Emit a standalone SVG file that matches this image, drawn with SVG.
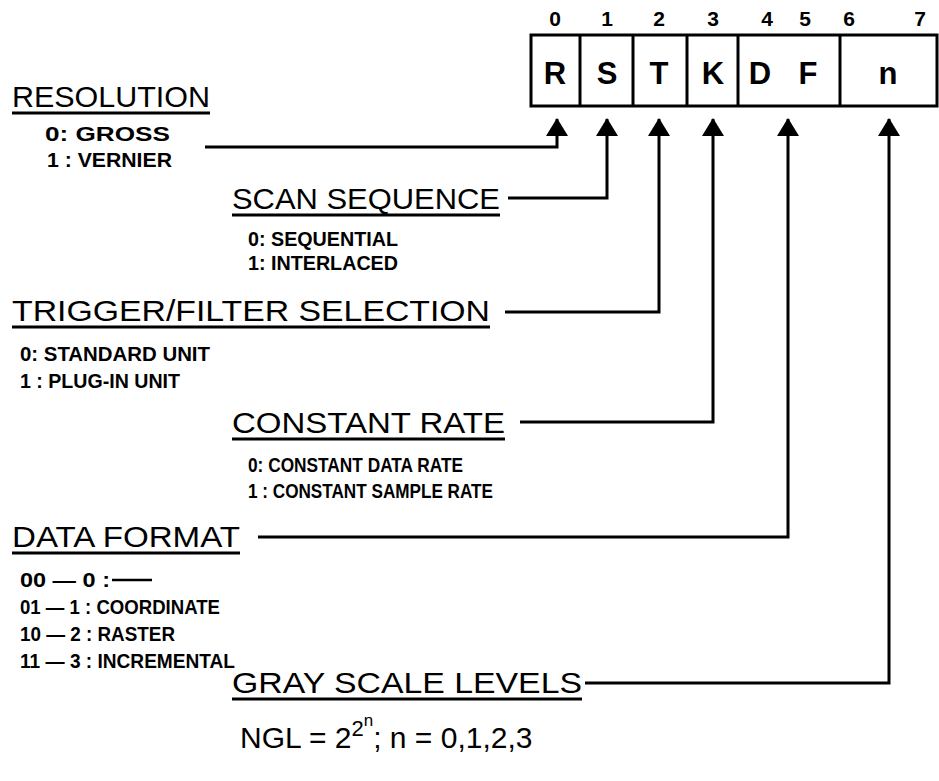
<svg xmlns="http://www.w3.org/2000/svg" width="939" height="781" viewBox="0 0 939 781">
<style>
.h{font-family:"Liberation Sans",Arial,sans-serif;font-size:30px;fill:#000}
.s{font-family:"Liberation Sans",Arial,sans-serif;font-size:21px;font-weight:bold;fill:#000}
.b{font-family:"Liberation Sans",Arial,sans-serif;font-size:21px;font-weight:bold;fill:#000;text-anchor:middle}
.c{font-family:"Liberation Sans",Arial,sans-serif;font-size:31px;font-weight:bold;fill:#000;text-anchor:middle}
.u{stroke:#000;stroke-width:3;fill:none}
.cell{fill:#fff;stroke:#000;stroke-width:3}
.con{stroke:#000;stroke-width:3;fill:none;marker-end:url(#ah)}
</style>
<defs>
<marker id="ah" viewBox="0 0 18 22" refX="17" refY="11" markerWidth="18" markerHeight="22" markerUnits="userSpaceOnUse" orient="auto">
<path d="M0,0 L18,11 L0,22 z" fill="#000"/>
</marker>
</defs>
<rect width="939" height="781" fill="#fff"/>
<g id="register">
<rect class="cell" x="531" y="35" width="406" height="71"/>
<line class="u" x1="580" y1="35" x2="580" y2="106"/>
<line class="u" x1="633" y1="35" x2="633" y2="106"/>
<line class="u" x1="687" y1="35" x2="687" y2="106"/>
<line class="u" x1="738" y1="35" x2="738" y2="106"/>
<line class="u" x1="840" y1="35" x2="840" y2="106"/>
<text class="b" x="555" y="26">0</text>
<text class="b" x="607" y="26">1</text>
<text class="b" x="659" y="26">2</text>
<text class="b" x="713" y="26">3</text>
<text class="b" x="767" y="26">4</text>
<text class="b" x="805" y="26">5</text>
<text class="b" x="849" y="26">6</text>
<text class="b" x="920" y="26">7</text>
<text class="c" x="555" y="84">R</text>
<text class="c" x="607" y="84">S</text>
<text class="c" x="659" y="84">T</text>
<text class="c" x="713" y="84">K</text>
<text class="c" x="760" y="84">D</text>
<text class="c" x="808" y="84">F</text>
<text class="c" x="888" y="84">n</text>
</g>
<g id="resolution">
<text class="h" x="12" y="107" textLength="198" lengthAdjust="spacingAndGlyphs">RESOLUTION</text>
<line class="u" x1="12" y1="113" x2="210" y2="113"/>
<text class="s" x="45" y="141" textLength="125" lengthAdjust="spacingAndGlyphs">0: GROSS</text>
<text class="s" x="47" y="167" textLength="125" lengthAdjust="spacingAndGlyphs">1 : VERNIER</text>
</g>
<g id="scan-sequence">
<text class="h" x="232" y="209" textLength="268" lengthAdjust="spacingAndGlyphs">SCAN SEQUENCE</text>
<line class="u" x1="232" y1="215" x2="500" y2="215"/>
<text class="s" x="248" y="246" textLength="150" lengthAdjust="spacingAndGlyphs">0: SEQUENTIAL</text>
<text class="s" x="248" y="270" textLength="150" lengthAdjust="spacingAndGlyphs">1: INTERLACED</text>
</g>
<g id="trigger-filter">
<text class="h" x="12" y="321" textLength="478" lengthAdjust="spacingAndGlyphs">TRIGGER/FILTER SELECTION</text>
<line class="u" x1="12" y1="327" x2="490" y2="327"/>
<text class="s" x="20" y="361" textLength="190" lengthAdjust="spacingAndGlyphs">0: STANDARD UNIT</text>
<text class="s" x="20" y="388" textLength="160" lengthAdjust="spacingAndGlyphs">1 : PLUG-IN UNIT</text>
</g>
<g id="constant-rate">
<text class="h" x="232" y="433" textLength="273" lengthAdjust="spacingAndGlyphs">CONSTANT RATE</text>
<line class="u" x1="232" y1="439" x2="505" y2="439"/>
<text class="s" x="248" y="472" textLength="215" lengthAdjust="spacingAndGlyphs">0: CONSTANT DATA RATE</text>
<text class="s" x="248" y="498" textLength="245" lengthAdjust="spacingAndGlyphs">1 : CONSTANT SAMPLE RATE</text>
</g>
<g id="data-format">
<text class="h" x="12" y="547" textLength="228" lengthAdjust="spacingAndGlyphs">DATA FORMAT</text>
<line class="u" x1="12" y1="553" x2="240" y2="553"/>
<text class="s" x="20" y="587" textLength="90" lengthAdjust="spacingAndGlyphs">00 — 0 :</text>
<line x1="112" y1="580" x2="152" y2="580" stroke="#000" stroke-width="2.5"/>
<text class="s" x="20" y="614" textLength="200" lengthAdjust="spacingAndGlyphs">01 — 1 : COORDINATE</text>
<text class="s" x="20" y="641" textLength="155" lengthAdjust="spacingAndGlyphs">10 — 2 : RASTER</text>
<text class="s" x="20" y="668" textLength="215" lengthAdjust="spacingAndGlyphs">11 — 3 : INCREMENTAL</text>
</g>
<g id="gray-scale">
<text class="h" x="232" y="693" textLength="350" lengthAdjust="spacingAndGlyphs">GRAY SCALE LEVELS</text>
<line class="u" x1="232" y1="699" x2="582" y2="699"/>
<text class="h" x="240" y="748">NGL = 2<tspan dy="-12" font-size="22">2</tspan><tspan dy="-10" font-size="17">n</tspan><tspan dy="22">; n = 0,1,2,3</tspan></text>
</g>
<g id="connectors">
<path class="con" d="M205,147 H557 V119"/>
<path class="con" d="M508,198 H607 V119"/>
<path class="con" d="M505,312 H659 V119"/>
<path class="con" d="M520,422 H713 V119"/>
<path class="con" d="M258,537 H788 V119"/>
<path class="con" d="M585,683 H889 V119"/>
</g>
</svg>
